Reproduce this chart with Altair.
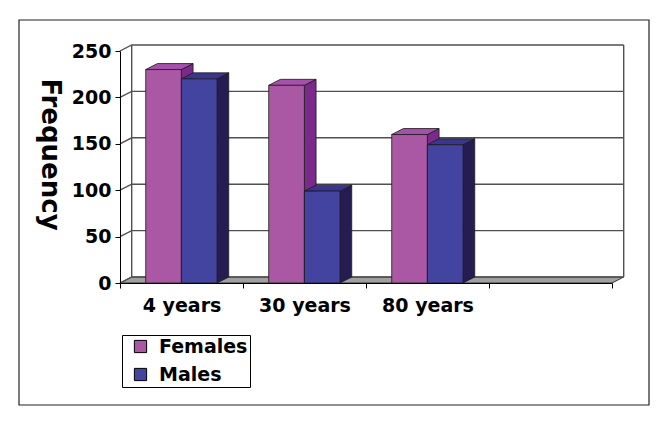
import json
import altair as alt
import pandas as pd

# ---- data ----
categories = ["4 years", "30 years", "80 years"]
series = ["Females", "Males"]
females = [230, 213, 160]
males = [220, 99, 149]
y_ticks = [0, 50, 100, 150, 200, 250]

# ---- geometry / style ----
N_SLOTS = 4            # the category axis has one empty slot on the right
Y_MAX = 250
W, H = 492, 232
DX = 11.7 / (W / N_SLOTS)   # 3-D depth in x units
DY = 6.0 / (H / Y_MAX)      # 3-D depth in y units
BAR_START = 0.209
BAR_W = 0.29

front_col = {"Females": "#AA58A3", "Males": "#4343A0"}
top_col = {"Females": "#A550AA", "Males": "#3A3590"}
side_col = {"Females": "#7B2A8C", "Males": "#251D52"}
EDGE = "#1a1a1a"
FONT = "DejaVu Sans"

rows_front, rows_side, rows_top = [], [], []
for i, cat in enumerate(categories):
    for j, (s, vals) in enumerate(zip(series, [females, males])):
        v = vals[i]
        xl = i + BAR_START + j * BAR_W
        xr = xl + BAR_W
        pid = f"{s}-{i}"
        rows_front.append(dict(series=s, category=cat, xl=xl, xr=xr, y0=0, v=v))
        rows_side += [dict(pid=pid, x=xr, ylo=0, yhi=v, fill=side_col[s]),
                      dict(pid=pid, x=xr + DX, ylo=DY, yhi=v + DY, fill=side_col[s])]
        rows_top += [dict(pid=pid, y=v, xa=xl, xb=xr, fill=top_col[s]),
                     dict(pid=pid, y=v + DY, xa=xl + DX, xb=xr + DX, fill=top_col[s])]

df_front = pd.DataFrame(rows_front)
df_side = pd.DataFrame(rows_side)
df_top = pd.DataFrame(rows_top)
df_floor = pd.DataFrame([dict(y=0, xa=0, xb=N_SLOTS), dict(y=DY, xa=DX, xb=N_SLOTS + DX)])

rows_grid = []
for g in y_ticks:
    gid = f"g{g}"
    rows_grid += [dict(gid=gid, ord=0, x=0, y=g),
                  dict(gid=gid, ord=1, x=DX, y=g + DY),
                  dict(gid=gid, ord=2, x=N_SLOTS + DX, y=g + DY)]
for k, xe in enumerate([DX, N_SLOTS + DX]):
    rows_grid += [dict(gid=f"e{k}", ord=0, x=xe, y=DY),
                  dict(gid=f"e{k}", ord=1, x=xe, y=Y_MAX + DY)]
df_grid = pd.DataFrame(rows_grid)

xs = alt.Scale(domain=[0, N_SLOTS], nice=False, zero=False)
ys = alt.Scale(domain=[0, Y_MAX], nice=False)

label_expr = (f"(datum.value % 1 == 0.5 && datum.value < {len(categories)}) "
              f"? {json.dumps(categories)}[floor(datum.value)] : ''")

x_axis = alt.Axis(
    values=[k / 2 for k in range(2 * N_SLOTS + 1)],
    labelExpr=label_expr,
    tickOpacity={"condition": {"test": "datum.value % 1 != 0", "value": 0}, "value": 1},
    title=None, grid=False, labelOverlap=False, labelFlush=False, zindex=2,
    labelFont=FONT, labelFontSize=19, labelFontWeight="bold", labelColor="black",
    labelPadding=8, tickSize=5, tickColor="black", domainColor="black",
)
y_axis = alt.Axis(
    values=y_ticks, title="Frequency", grid=False, labelFlush=False, zindex=2,
    titleAngle=90, titleFont=FONT, titleFontSize=26, titleFontWeight="bold",
    titleColor="black", titleX=-79, titleY=103, titleAlign="center",
    titleBaseline="alphabetic",
    labelFont=FONT, labelFontSize=19, labelFontWeight="bold", labelColor="black",
    labelPadding=4, tickSize=5, tickColor="black", domainColor="black",
)

frame = alt.Chart(pd.DataFrame({"a": [0]})).mark_rect(
    filled=False, stroke="#222222", strokeWidth=1.2
).encode(x=alt.value(-101), x2=alt.value(529), y=alt.value(-31), y2=alt.value(354))

floor = alt.Chart(df_floor).mark_area(
    orient="horizontal", color="#A0A0A0", stroke="#333333", strokeWidth=1
).encode(
    y=alt.Y("y:Q", scale=ys, axis=y_axis),
    x=alt.X("xa:Q", scale=xs, axis=x_axis, stack=None), x2="xb",
)

grid = alt.Chart(df_grid).mark_line(color="#505050", strokeWidth=1.4).encode(
    x=alt.X("x:Q", scale=xs, axis=x_axis),
    y=alt.Y("y:Q", scale=ys, axis=y_axis),
    detail="gid:N", order="ord:Q",
)

sides = alt.Chart(df_side).mark_area(
    orient="vertical", stroke=EDGE, strokeWidth=0.8
).encode(
    x=alt.X("x:Q", scale=xs, axis=x_axis),
    y=alt.Y("ylo:Q", scale=ys, axis=y_axis, stack=None), y2="yhi",
    detail="pid:N", fill=alt.Fill("fill:N", scale=None),
)

tops = alt.Chart(df_top).mark_area(
    orient="horizontal", stroke=EDGE, strokeWidth=0.8
).encode(
    y=alt.Y("y:Q", scale=ys, axis=y_axis),
    x=alt.X("xa:Q", scale=xs, axis=x_axis, stack=None), x2="xb",
    detail="pid:N", fill=alt.Fill("fill:N", scale=None),
)

front = alt.Chart(df_front).mark_rect(stroke=EDGE, strokeWidth=0.8).encode(
    x=alt.X("xl:Q", scale=xs, axis=x_axis), x2="xr",
    y=alt.Y("y0:Q", scale=ys, axis=y_axis), y2="v",
    color=alt.Color(
        "series:N",
        scale=alt.Scale(domain=series, range=[front_col[s] for s in series]),
        legend=alt.Legend(
            title=None, orient="none", legendX=2, legendY=284,
            strokeColor="black", fillColor="white", padding=2,
            symbolType="square", symbolSize=150, symbolStrokeColor="black",
            symbolStrokeWidth=1, symbolOffset=7, labelOffset=9, rowPadding=8,
            labelFont=FONT, labelFontSize=19, labelFontWeight="bold",
            labelColor="black",
        ),
    ),
)

chart = alt.layer(frame, floor, grid, sides, tops, front).properties(
    width=W, height=H,
    autosize=alt.AutoSizeParams(type="none"),
    padding={"left": 112, "top": 43, "right": 44, "bottom": 131},
    background="white",
).configure_view(stroke=None)

chart.save("out.html", embed_options={"renderer": "svg", "actions": False})
